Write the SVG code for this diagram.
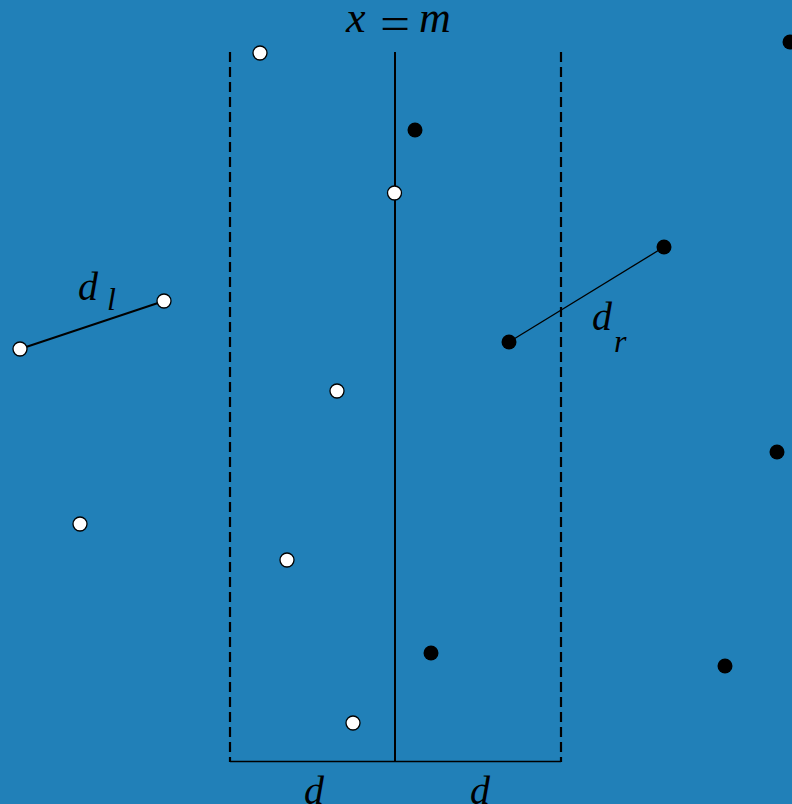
<svg xmlns="http://www.w3.org/2000/svg" width="792" height="804" viewBox="0 0 792 804">
<style>
.t{font-family:"Liberation Serif","Times New Roman",serif;font-style:italic;fill:#000}
.u{font-family:"Liberation Serif","Times New Roman",serif;fill:#000}
.w{fill:#fff;stroke:#000;stroke-width:1.3}
.b{fill:#000}
.dash{stroke:#000;stroke-width:2.2;stroke-dasharray:10,5;fill:none}
</style>
<rect width="792" height="804" fill="#2180b8"/>
<g id="connectors" stroke="#000" fill="none">
<line class="dash" x1="230" y1="52" x2="230" y2="762"/>
<line class="dash" x1="561" y1="52" x2="561" y2="762"/>
<line x1="395" y1="52" x2="395" y2="762" stroke-width="2"/>
<line x1="230" y1="761.5" x2="561" y2="761.5" stroke-width="1.5"/>
<line x1="20" y1="349" x2="164" y2="301" stroke-width="2"/>
<line x1="509" y1="342" x2="664" y2="247" stroke-width="1.3"/>
</g>
<g id="labels">
<text class="t" x="346" y="32" font-size="44">x</text>
<text class="u" x="380" y="38.5" font-size="46" textLength="30" lengthAdjust="spacingAndGlyphs">=</text>
<text class="t" x="419" y="32" font-size="44">m</text>
<text class="t" x="78" y="300" font-size="40">d</text>
<text class="t" x="107" y="310" font-size="32">l</text>
<text class="t" x="592" y="330" font-size="40">d</text>
<text class="t" x="614" y="352" font-size="32">r</text>
<text class="t" x="314" y="804" font-size="40" text-anchor="middle">d</text>
<text class="t" x="480" y="804" font-size="40" text-anchor="middle">d</text>
</g>
<g id="p1"><circle class="w" cx="260" cy="53" r="7"/></g>
<g id="p2"><circle class="w" cx="394.5" cy="193" r="7"/></g>
<g id="p3"><circle class="w" cx="164" cy="301" r="7"/></g>
<g id="p4"><circle class="w" cx="20" cy="349" r="7"/></g>
<g id="p5"><circle class="w" cx="337" cy="391" r="7"/></g>
<g id="p6"><circle class="w" cx="80" cy="524" r="7"/></g>
<g id="p7"><circle class="w" cx="287" cy="560" r="7"/></g>
<g id="p8"><circle class="w" cx="353" cy="723" r="7"/></g>
<g id="q1"><circle class="b" cx="790" cy="42" r="7.5"/></g>
<g id="q2"><circle class="b" cx="415" cy="130" r="7.5"/></g>
<g id="q3"><circle class="b" cx="664" cy="247" r="7.5"/></g>
<g id="q4"><circle class="b" cx="509" cy="342" r="7.5"/></g>
<g id="q5"><circle class="b" cx="777" cy="452" r="7.5"/></g>
<g id="q6"><circle class="b" cx="431" cy="653" r="7.5"/></g>
<g id="q7"><circle class="b" cx="725" cy="666" r="7.5"/></g>
</svg>
